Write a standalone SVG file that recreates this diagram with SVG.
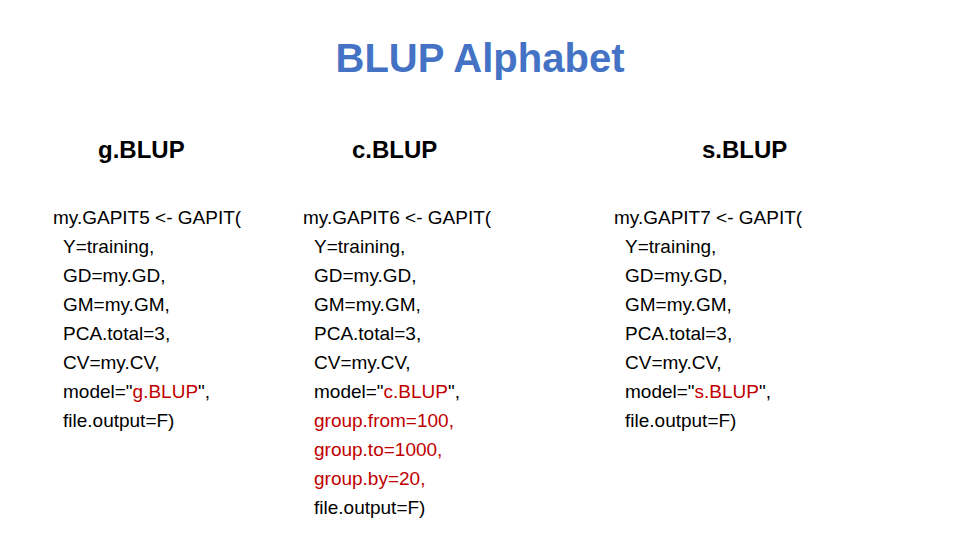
<svg xmlns="http://www.w3.org/2000/svg" width="960" height="540" viewBox="0 0 960 540">
<style>
.t{font-family:"Liberation Sans",Arial,sans-serif;font-weight:bold;font-size:40px;fill:#4472C4}
.h{font-family:"Liberation Sans",Arial,sans-serif;font-weight:bold;font-size:24px;fill:#000}
.c{font-family:"Liberation Sans",Arial,sans-serif;font-size:19px;fill:#000}
.r{fill:#C00000}
</style>
<rect width="960" height="540" fill="#fff"/>
<text class="t" x="480" y="72" text-anchor="middle">BLUP Alphabet</text>
<g id="gblup">
<text class="h" x="98" y="158">g.BLUP</text>
<text class="c" x="53" y="224">my.GAPIT5 &lt;- GAPIT(</text>
<text class="c" x="63" y="253">Y=training,</text>
<text class="c" x="63" y="282">GD=my.GD,</text>
<text class="c" x="63" y="311">GM=my.GM,</text>
<text class="c" x="63" y="340">PCA.total=3,</text>
<text class="c" x="63" y="369">CV=my.CV,</text>
<text class="c" x="63" y="398">model="<tspan class="r">g.BLUP</tspan>",</text>
<text class="c" x="63" y="427">file.output=F)</text>
</g>
<g id="cblup">
<text class="h" x="352" y="158">c.BLUP</text>
<text class="c" x="303" y="224">my.GAPIT6 &lt;- GAPIT(</text>
<text class="c" x="314" y="253">Y=training,</text>
<text class="c" x="314" y="282">GD=my.GD,</text>
<text class="c" x="314" y="311">GM=my.GM,</text>
<text class="c" x="314" y="340">PCA.total=3,</text>
<text class="c" x="314" y="369">CV=my.CV,</text>
<text class="c" x="314" y="398">model="<tspan class="r">c.BLUP</tspan>",</text>
<text class="c r" x="314" y="427">group.from=100,</text>
<text class="c r" x="314" y="456">group.to=1000,</text>
<text class="c r" x="314" y="485">group.by=20,</text>
<text class="c" x="314" y="514">file.output=F)</text>
</g>
<g id="sblup">
<text class="h" x="702" y="158">s.BLUP</text>
<text class="c" x="614" y="224">my.GAPIT7 &lt;- GAPIT(</text>
<text class="c" x="625" y="253">Y=training,</text>
<text class="c" x="625" y="282">GD=my.GD,</text>
<text class="c" x="625" y="311">GM=my.GM,</text>
<text class="c" x="625" y="340">PCA.total=3,</text>
<text class="c" x="625" y="369">CV=my.CV,</text>
<text class="c" x="625" y="398">model="<tspan class="r">s.BLUP</tspan>",</text>
<text class="c" x="625" y="427">file.output=F)</text>
</g>
<g id="connectors"/>
</svg>
